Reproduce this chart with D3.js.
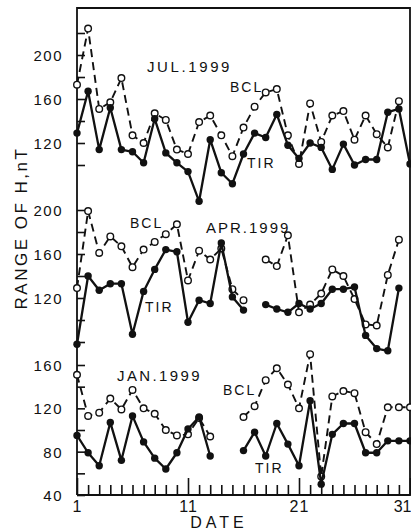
<!DOCTYPE html>
<html>
<head>
<meta charset="utf-8">
<script src="https://cdn.jsdelivr.net/npm/d3@7"></script>
<style>
html,body{margin:0;padding:0;background:#fff;}
svg{display:block;}
text{font-family:"Liberation Sans",Arial,sans-serif;fill:#111;}
</style>
</head>
<body>
<svg id="chart" width="411" height="531"></svg>
<script>
// ---- data ----
const days = d3.range(1, 32);
const julTIR = [129,167,114,152,114,112,102,142,111,102,94,67,123,93,83,110,129,125,146,118,106,120,116,96,119,100,105,105,148,151,101];
const julBCL = [173,224,151,157,179,127,120,147,141,114,110,139,145,127,108,134,153,166,169,127,101,156,121,145,149,123,145,128,116,158,null];
const aprTIR = [78,140,127,133,133,87,126,146,164,162,98,118,115,170,121,109,null,114,110,107,115,110,115,128,128,130,86,74,72,129,null];
const aprBCL = [129,199,161,176,167,148,164,171,178,187,136,163,155,165,128,118,null,155,149,177,107,114,124,146,140,119,96,95,141,173,null];
const janTIR = [95,79,67,107,72,113,89,74,64,79,101,112,76,null,null,81,98,76,106,87,67,127,50,96,106,106,79,79,90,90,90];
const janBCL = [151,113,116,129,119,137,120,115,100,95,96,111,94,null,null,112,122,146,157,142,120,170,57,131,136,134,98,87,121,121,121];
const xTickLabels = [1, 11, 21, 31];
const julTicks = [100,120,140,160,180,200,220], julLabels = [120,160,200];
const aprTicks = [80,100,120,140,160,180,200], aprLabels = [120,160,200];
const janTicks = [60,80,100,120,140,160], janLabels = [40,80,120,160];
const panelTitles = ["JUL.1999","APR.1999","JAN.1999"];

// ---- layout ----
const svg = d3.select("#chart");
const L = 77, R = 410, T = 8, B = 495;
const x = d3.scaleLinear().domain([1,31]).range([L,R]);
const yJul = d3.scaleLinear().domain([120,200]).range([143,55]);
const yApr = d3.scaleLinear().domain([120,200]).range([298,210]);
const yJan = d3.scaleLinear().domain([40,160]).range([495,365]);

svg.append("rect").attr("width",411).attr("height",531).attr("fill","#fff");

// frame
svg.append("path")
  .attr("d", `M${L},${B}V${T}H${R}V${B}H${L}`)
  .attr("fill","none").attr("stroke","#111").attr("stroke-width",1.8);

// x ticks (inward)
const xAxis = d3.axisBottom(x).tickValues(days).tickSize(0).tickFormat("");
const gx = svg.append("g").attr("transform",`translate(0,${B})`).call(xAxis);
gx.select(".domain").remove();
gx.selectAll(".tick").append("line")
  .attr("y1",0).attr("y2", d => xTickLabels.includes(d) ? -17 : -10)
  .attr("stroke","#111").attr("stroke-width",1.6);
gx.selectAll(".tick").filter(d => xTickLabels.includes(d)).append("text")
  .attr("y",17)
  .attr("text-anchor", d => d === 31 ? "end" : "middle")
  .attr("x", d => d === 31 ? 1 : 0)
  .style("font-size","16px").style("letter-spacing", d => d === 31 ? "0px" : "1px")
  .text(d => d);

// y axes per panel
function yAxisPanel(scale, ticks, labels){
  const g = svg.append("g").attr("transform",`translate(${L},0)`)
    .call(d3.axisLeft(scale).tickValues(ticks.concat(labels.filter(v=>!ticks.includes(v)))).tickSize(0).tickFormat(""));
  g.select(".domain").remove();
  g.selectAll(".tick").append("line").attr("x1",0).attr("x2",8).attr("stroke","#111").attr("stroke-width",1.6);
  g.selectAll(".tick").filter(d => labels.includes(d)).append("text")
    .attr("x",-14).attr("dy","0.36em").attr("text-anchor","end")
    .style("font-size","15px").style("letter-spacing","1.5px")
    .text(d => d);
}
yAxisPanel(yJul, julTicks, julLabels);
yAxisPanel(yApr, aprTicks, aprLabels);
yAxisPanel(yJan, janTicks, janLabels);

// series
function drawPanel(y, tir, bcl){
  const line = d3.line().defined(d => d[1] != null).x(d => x(d[0])).y(d => y(d[1]));
  const bd = days.map((d,i)=>[d,bcl[i]]);
  const td = days.map((d,i)=>[d,tir[i]]);
  svg.append("path").datum(bd).attr("d",line).attr("fill","none")
    .attr("stroke","#111").attr("stroke-width",1.9).attr("stroke-dasharray","8,5");
  svg.append("g").selectAll("circle").data(bd.filter(d=>d[1]!=null)).join("circle")
    .attr("cx",d=>x(d[0])).attr("cy",d=>y(d[1])).attr("r",3.3)
    .attr("fill","#fff").attr("stroke","#111").attr("stroke-width",1.4);
  svg.append("path").datum(td).attr("d",line).attr("fill","none")
    .attr("stroke","#111").attr("stroke-width",2.3).attr("stroke-linejoin","round");
  svg.append("g").selectAll("circle").data(td.filter(d=>d[1]!=null)).join("circle")
    .attr("cx",d=>x(d[0])).attr("cy",d=>y(d[1])).attr("r",3.7).attr("fill","#111");
}
drawPanel(yJul, julTIR, julBCL);
drawPanel(yApr, aprTIR, aprBCL);
drawPanel(yJan, janTIR, janBCL);

// labels
function label(txt, lx, ly, size, ls){
  svg.append("text").attr("x",lx).attr("y",ly)
    .style("font-size",size+"px").style("letter-spacing",ls+"px").text(txt);
}
label(panelTitles[0], 147, 72, 15, 2.6);
label(panelTitles[1], 206, 233, 15, 2.0);
label(panelTitles[2], 117, 381, 15, 2.4);
label("BCL", 230, 92, 14, 2);
label("BCL", 130, 228, 14, 2);
label("BCL", 223, 395, 14, 2);
label("TIR", 247, 168, 14, 2);
label("TIR", 145, 312, 14, 2);
label("TIR", 255, 473, 14, 2);

svg.append("text").attr("transform","translate(27,228) rotate(-90)")
  .attr("text-anchor","middle").style("font-size","17px").style("letter-spacing","2.5px")
  .text("RANGE OF H,nT");
svg.append("text").attr("x",219).attr("y",528).attr("text-anchor","middle")
  .style("font-size","16px").style("letter-spacing","4px").text("DATE");
</script>
</body>
</html>
